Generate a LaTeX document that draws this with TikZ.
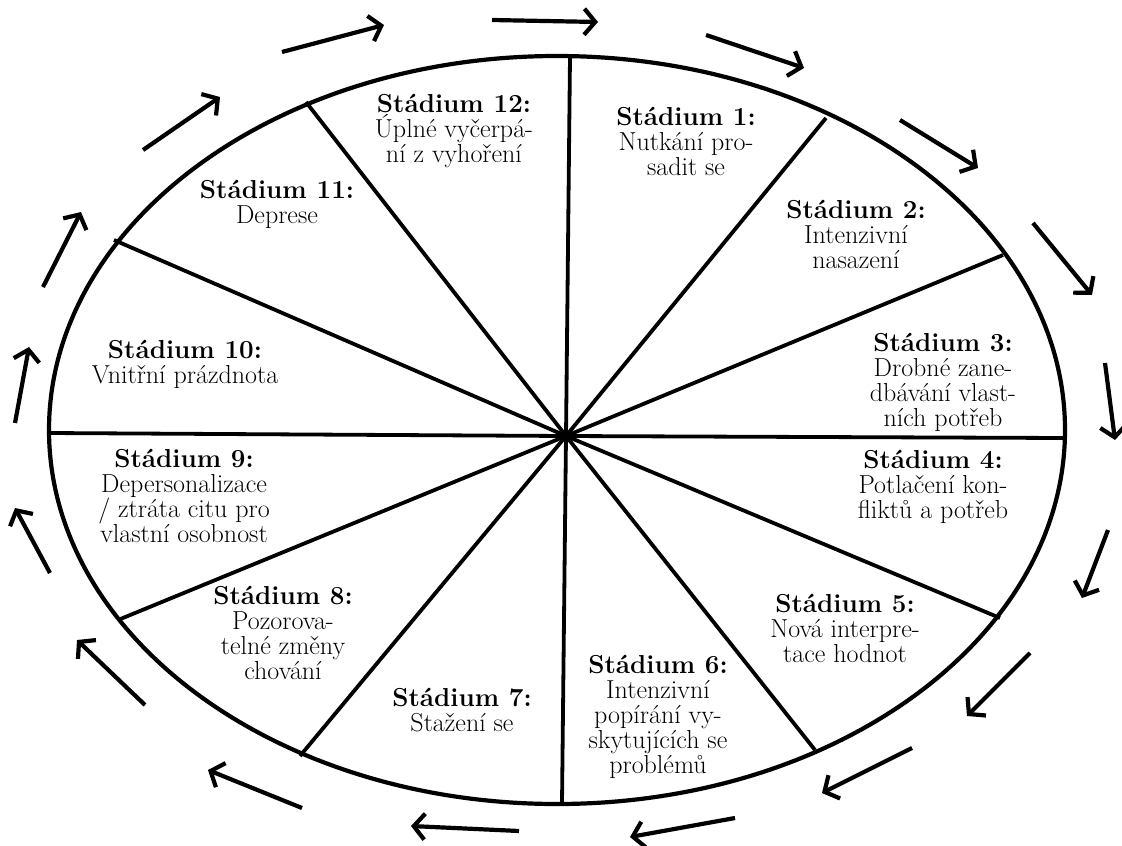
\documentclass[tikz,border=0pt]{standalone}
\usetikzlibrary{arrows.meta}
\begin{document}
\begin{tikzpicture}[x=1pt,y=-1pt,
  rim/.style={line width=4.2pt},
  spoke/.style={line width=3.8pt},
  flow/.style={line width=4.2pt,-{Straight Barb[length=11pt,width=26pt,line width=4.2pt]}},
  stage/.style={align=center,inner sep=0pt,font=\fontsize{26}{25}\selectfont}]
\useasboundingbox (0,0) rectangle (1122,846);
\fill[white] (0,0) rectangle (1122,846);
% centre and rim points
\coordinate (C) at (566,436);
\coordinate (p0) at (570,57);
\coordinate (p1) at (826,118);
\coordinate (p2) at (1003,255);
\coordinate (p3) at (1065,438);
\coordinate (p4) at (1000,618);
\coordinate (p5) at (815,750);
\coordinate (p6) at (562,803);
\coordinate (p7) at (300,756);
\coordinate (p8) at (118,620);
\coordinate (p9) at (49,433);
\coordinate (p10) at (114,240);
\coordinate (p11) at (306,102);
% spokes
\foreach \i in {0,...,11} \draw[spoke] (C) -- (p\i);
% rim
\draw[rim] (557,430) ellipse [x radius=508pt, y radius=374pt];
% stage labels
\node[stage] (s1) at (686,141) {\textbf{Stádium 1:}\\Nutkání pro-\\sadit se};
\node[stage] (s2) at (856,234) {\textbf{Stádium 2:}\\Intenzivní\\nasazení};
\node[stage] (s3) at (943,382) {\textbf{Stádium 3:}\\Drobné zane-\\dbávání vlast-\\ních potřeb};
\node[stage] (s4) at (933,487) {\textbf{Stádium 4:}\\Potlačení kon-\\fliktů a potřeb};
\node[stage] (s5) at (845,628) {\textbf{Stádium 5:}\\Nová interpre-\\tace hodnot};
\node[stage] (s6) at (658,717) {\textbf{Stádium 6:}\\Intenzivní\\popírání vy-\\skytujících se\\problémů};
\node[stage] (s7) at (462,710) {\textbf{Stádium 7:}\\Stažení se};
\node[stage] (s8) at (283,633) {\textbf{Stádium 8:}\\Pozorova-\\telné změny\\chování};
\node[stage] (s9) at (184,496) {\textbf{Stádium 9:}\\Depersonalizace\\/ ztráta citu pro\\vlastní osobnost};
\node[stage] (s10) at (185,364) {\textbf{Stádium 10:}\\Vnitřní prázdnota};
\node[stage] (s11) at (277,204) {\textbf{Stádium 11:}\\Deprese};
\node[stage] (s12) at (454,131) {\textbf{Stádium 12:}\\Úplné vyčerpá-\\ní z vyhoření};
% outer ring of arrows
\foreach \a/\b/\c/\d in {
  15/423/29/347, 43/287/81/212, 143/150/220/97, 282/52/384/25,
  492/20/598/22, 706/35/804/68, 900/120/978/168, 1033/223/1092/295,
  1105/363/1115/440, 1108/530/1082/598, 1030/653/967/716, 912/748/822/793,
  735/818/630/837, 519/831/411/826, 302/808/208/770, 145/705/77/640,
  50/573/15/508}
  \draw[flow] (\a,\b) -- (\c,\d);
\end{tikzpicture}
\end{document}
